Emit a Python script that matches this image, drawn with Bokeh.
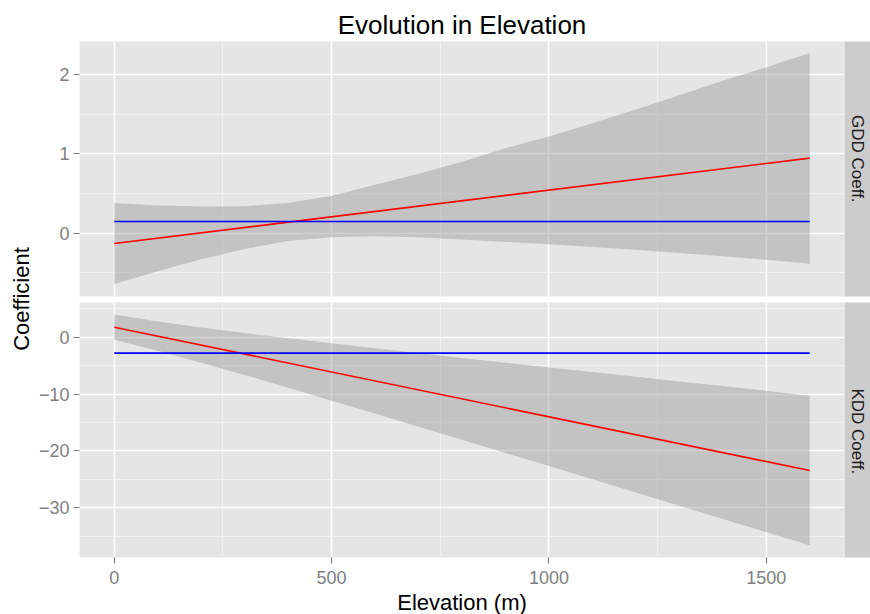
from math import pi
from bokeh.plotting import figure
from bokeh.layouts import row, column
from bokeh.models import Range1d, FixedTicker
from bokeh.embed import file_html
from bokeh.resources import INLINE
from bokeh.core.properties import value

# ---------------- data ----------------
elevation = [0, 100, 200, 300, 400, 500, 600, 700, 800, 900, 1000,
             1100, 1200, 1300, 1400, 1500, 1600]

gdd_upper = [0.38, 0.35, 0.335, 0.34, 0.38, 0.47, 0.61, 0.75, 0.90, 1.07, 1.22,
             1.385, 1.56, 1.74, 1.92, 2.09, 2.27]
gdd_lower = [-0.64, -0.48, -0.33, -0.20, -0.10, -0.05, -0.04, -0.05, -0.08, -0.11, -0.14,
             -0.175, -0.21, -0.25, -0.29, -0.335, -0.385]
gdd_fit_x = [0, 1600]
gdd_fit = [-0.13, 0.946]
gdd_mean = 0.148

kdd_upper = [3.99, 2.75, 1.70, 0.73, -0.19, -1.07, -1.94, -2.80, -3.64, -4.48, -5.31,
             -6.14, -6.96, -7.79, -8.60, -9.43, -10.3]
kdd_lower = [-0.46, -2.38, -4.48, -6.66, -8.89, -11.16, -13.44, -15.74, -18.04, -20.35, -22.67,
             -24.99, -27.32, -29.65, -31.98, -34.31, -36.6]
kdd_fit_x = [0, 1600]
kdd_fit = [1.76, -23.44]
kdd_mean = -2.81

x_ticks = [0, 500, 1000, 1500]
x_minor = [250, 750, 1250]
gdd_ticks = [0, 1, 2]
gdd_minor = [-0.5, 0.5, 1.5]
kdd_ticks = [0, -10, -20, -30]
kdd_minor = [5, -5, -15, -25, -35]
panel_labels = ["GDD Coeff.", "KDD Coeff."]

FONT = "Liberation Sans"
TICK_GREY = "#7f7f7f"
LAB_W = 33


def make_panel(y_range, yticks, yminor, upper, lower, fx, fy, mean,
               top, bottom, show_x, title=None):
    p = figure(frame_width=765, frame_height=255,
               x_range=Range1d(-80, 1680), y_range=y_range,
               output_backend="svg", toolbar_location=None,
               min_border_left=79 - LAB_W, min_border_right=0,
               min_border_top=top, min_border_bottom=bottom,
               background_fill_color="#e5e5e5", border_fill_color="white",
               outline_line_color=None)
    if title:
        p.title.text = title
        p.title.align = "center"
        p.title.text_font = FONT
        p.title.text_font_size = "26px"
        p.title.text_font_style = "normal"
        p.title.text_color = "black"
        p.title.standoff = 4

    p.xaxis.ticker = FixedTicker(ticks=x_ticks, minor_ticks=x_minor)
    p.yaxis.ticker = FixedTicker(ticks=yticks, minor_ticks=yminor)
    p.yaxis.major_label_overrides = {t: (str(t).replace("-", "\u2212")) for t in yticks}
    for ax in (p.xaxis, p.yaxis):
        ax.axis_line_color = None
        ax.major_tick_line_color = TICK_GREY
        ax.major_tick_line_width = 1.2
        ax.major_tick_out = 6
        ax.major_tick_in = 0
        ax.minor_tick_out = 0
        ax.minor_tick_in = 0
        ax.major_label_text_font = FONT
        ax.major_label_text_font_size = "18px"
        ax.major_label_text_color = TICK_GREY
        ax.major_label_standoff = 4
    if show_x:
        p.xaxis.major_label_standoff = 7
        p.xaxis.axis_label = "Elevation (m)"
        p.xaxis.axis_label_text_font = FONT
        p.xaxis.axis_label_text_font_size = "22px"
        p.xaxis.axis_label_text_font_style = "normal"
        p.xaxis.axis_label_text_color = "black"
        p.xaxis.axis_label_standoff = 3
    else:
        p.xaxis.visible = False

    p.xgrid.ticker = FixedTicker(ticks=x_ticks, minor_ticks=x_minor)
    p.ygrid.ticker = FixedTicker(ticks=yticks, minor_ticks=yminor)
    for g in (p.xgrid, p.ygrid):
        g.grid_line_color = "white"
        g.grid_line_width = 1.6
        g.minor_grid_line_color = "#f2f2f2"
        g.minor_grid_line_width = 0.9

    p.varea(x=elevation, y1=lower, y2=upper, fill_color="#999999", fill_alpha=0.45)
    p.line(x=fx, y=fy, line_color="#ff0000", line_width=1.6)
    p.line(x=[elevation[0], elevation[-1]], y=[mean, mean], line_color="#0000ff", line_width=1.6)
    return p


def make_strip(label, label_y, top, bottom):
    s = figure(frame_width=26, frame_height=255,
               x_range=Range1d(0, 1), y_range=Range1d(0, 1),
               x_axis_location=None, y_axis_location=None,
               output_backend="svg", toolbar_location=None,
               min_border_left=0, min_border_right=0,
               min_border_top=top, min_border_bottom=bottom,
               background_fill_color="#cccccc", border_fill_color="white",
               outline_line_color=None)
    for g in s.grid:
        g.visible = False
    s.text(x=[0.5], y=[label_y], text=[label], angle=-pi / 2,
           text_align="center", text_baseline="middle",
           text_font=value(FONT), text_font_size="17px", text_color="#1a1a1a")
    return s


p1 = make_panel(Range1d(-0.798, 2.416), gdd_ticks, gdd_minor, gdd_upper, gdd_lower,
                gdd_fit_x, gdd_fit, gdd_mean, top=41, bottom=6, show_x=False,
                title="Evolution in Elevation")
p2 = make_panel(Range1d(-38.74, 6.1), kdd_ticks, kdd_minor, kdd_upper, kdd_lower,
                kdd_fit_x, kdd_fit, kdd_mean, top=0, bottom=57, show_x=True)
s1 = make_strip(panel_labels[0], 0.54, 41, 6)
s2 = make_strip(panel_labels[1], 0.495, 0, 57)

lab = figure(frame_width=LAB_W, frame_height=614,
             x_range=Range1d(0, LAB_W), y_range=Range1d(0, 614),
             x_axis_location=None, y_axis_location=None,
             output_backend="svg", toolbar_location=None,
             min_border=0, background_fill_color="white",
             border_fill_color="white", outline_line_color=None)
for g in lab.grid:
    g.visible = False
lab.text(x=[21], y=[614 - 298.5], text=["Coefficient"], angle=pi / 2,
         text_align="center", text_baseline="middle",
         text_font=value(FONT), text_font_size="22px", text_color="black")

layout = row(lab, column(row(p1, s1), row(p2, s2)))

open("out.html", "w").write(file_html(layout, INLINE))
